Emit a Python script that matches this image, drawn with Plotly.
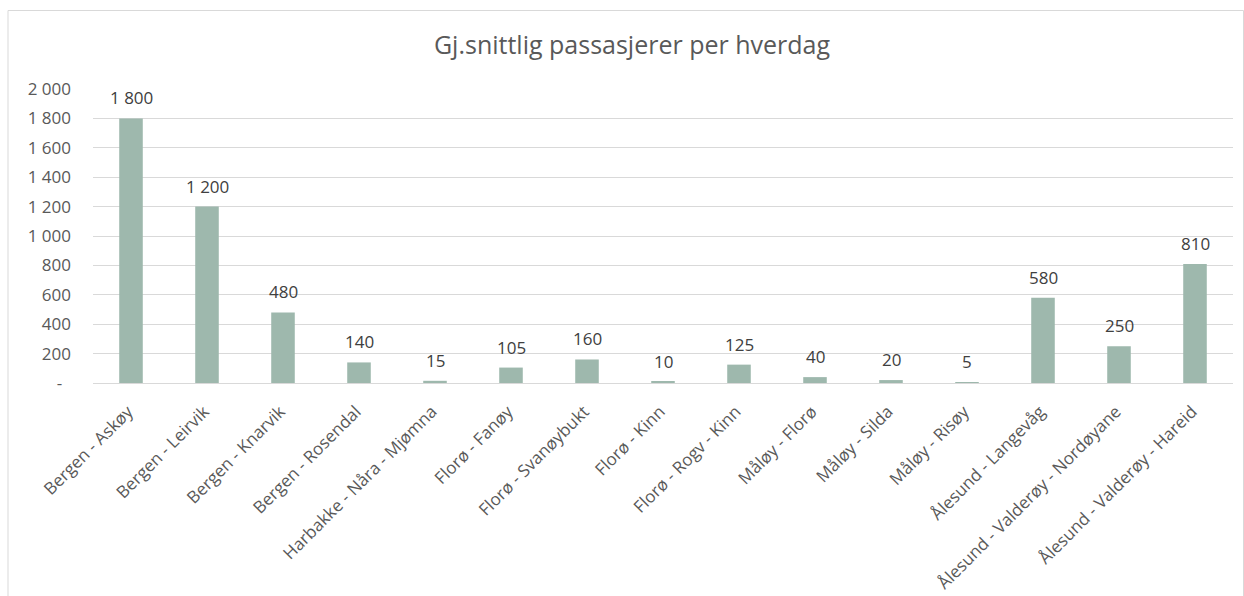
import plotly.graph_objects as go

# Average passengers per weekday per route
routes = [
    "Bergen - Askøy", "Bergen - Leirvik", "Bergen - Knarvik", "Bergen - Rosendal",
    "Harbakke - Nåra - Mjømna", "Florø - Fanøy", "Florø - Svanøybukt", "Florø - Kinn",
    "Florø - Rogv - Kinn", "Måløy - Florø", "Måløy - Silda", "Måløy - Risøy",
    "Ålesund - Langevåg", "Ålesund - Valderøy - Nordøyane", "Ålesund - Valderøy - Hareid",
]
passengers = [1800, 1200, 480, 140, 15, 105, 160, 10, 125, 40, 20, 5, 580, 250, 810]

y_tickvals = [0, 200, 400, 600, 800, 1000, 1200, 1400, 1600, 1800, 2000]
y_ticktext = ["-\u00a0\u00a0", "200", "400", "600", "800", "1 000", "1 200",
              "1 400", "1 600", "1 800", "2 000"]


def fmt(v):
    return f"{v:,}".replace(",", " ")


FONT = "'Open Sans', sans-serif"
GRID = "#d9d9d9"

fig = go.Figure(go.Bar(
    x=routes,
    y=passengers,
    marker=dict(color="#9eb8ad", line=dict(width=0)),
    hoverinfo="x+y",
))

# Value labels above each bar
for r, v in zip(routes, passengers):
    fig.add_annotation(
        x=r, y=v, text=fmt(v), showarrow=False,
        yanchor="bottom", yshift=7,
        font=dict(family=FONT, size=17, color="#404040"),
    )

L, R, T, B = 93, 11, 89, 213
W, H = 1244, 596
pw, ph = W - L - R, H - T - B

# Chart-area frame
fig.add_shape(
    type="rect", xref="paper", yref="paper",
    x0=(8 - L) / pw, x1=(1243.5 - L) / pw,
    y0=(T + ph - 600) / ph, y1=(T + ph - 10.5) / ph,
    line=dict(color=GRID, width=1), fillcolor="rgba(0,0,0,0)", layer="below",
)

fig.update_layout(
    width=W, height=H,
    margin=dict(l=L, r=R, t=T, b=B, autoexpand=False),
    paper_bgcolor="white", plot_bgcolor="white",
    bargap=0.69,
    showlegend=False,
    title=dict(
        text="Gj.snittlig passasjerer per hverdag",
        x=632 / W, xanchor="center", y=1 - 45 / H, yanchor="middle",
        font=dict(family=FONT, size=25, color="#595959"),
    ),
    xaxis=dict(
        tickangle=-45,
        tickfont=dict(family=FONT, size=17, color="#595959"),
        showgrid=False, showline=True, linecolor=GRID, linewidth=1,
        ticks="", fixedrange=True, ticklabelstandoff=11, ticklabelshift=-3,
        automargin=False,
    ),
    yaxis=dict(
        range=[0, 2000],
        tickvals=y_tickvals, ticktext=y_ticktext,
        tickfont=dict(family=FONT, size=17, color="#595959"),
        showgrid=True, gridcolor=GRID, gridwidth=1,
        zeroline=False, showline=False, ticks="",
        ticklabelstandoff=21, fixedrange=True, automargin=False,
    ),
)

fig.write_html("out.html")
